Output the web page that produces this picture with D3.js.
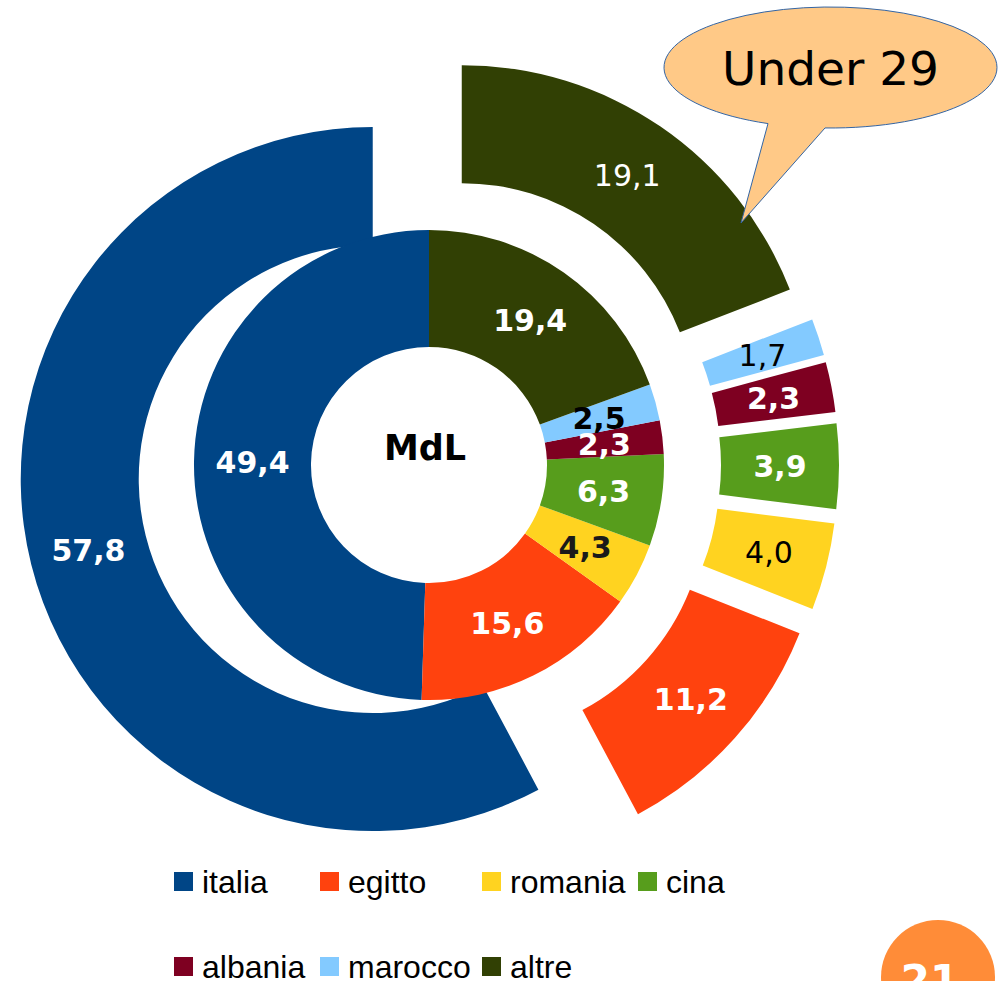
<!DOCTYPE html>
<html>
<head>
<meta charset="utf-8">
<script src="https://cdn.jsdelivr.net/npm/d3@7"></script>
<style>
  body { margin: 0; background: #ffffff; }
  svg { display: block; }
</style>
</head>
<body>
<svg id="svg_chart" width="1000" height="981"></svg>
<script>
// data, in legend order (LibreOffice draws them counter-clockwise from 12 o'clock)
const categories = ['italia', 'egitto', 'romania', 'cina', 'albania', 'marocco', 'altre'];
const values_mdl = [49.4, 15.6, 4.3, 6.3, 2.3, 2.5, 19.4];
const values_under29 = [57.8, 11.2, 4.0, 3.9, 2.3, 1.7, 19.1];
const colors = ['#004586', '#ff420e', '#ffd320', '#579d1c', '#7e0021', '#83caff', '#314004'];
const centre_label = 'MdL';
const callout_label = 'Under 29';
const page_number = '21';

// label styling per slice: [fill, weight]
const inner_lbl = {
  italia: ['#ffffff', 'bold'], egitto: ['#ffffff', 'bold'], romania: ['#1a1a1a', 'bold'],
  cina: ['#ffffff', 'bold'], albania: ['#ffffff', 'bold'], marocco: ['#000000', 'bold'], altre: ['#ffffff', 'bold'],
};
const outer_lbl = {
  italia: ['#ffffff', 'bold'], egitto: ['#ffffff', 'bold'], romania: ['#000000', 'normal'],
  cina: ['#ffffff', 'bold'], albania: ['#ffffff', 'bold'], marocco: ['#000000', 'normal'], altre: ['#ffffff', 'normal'],
};

const svg = d3.select('svg#svg_chart');
const cx = 429, cy = 465;
const explode = 58;
const fmt = v => d3.format('.1f')(v).replace('.', ',');

const color = d3.scaleOrdinal().domain(categories).range(colors);

const pie = d3.pie()
  .sort(null)
  .value(d => d.value)
  .startAngle(0)
  .endAngle(-2 * Math.PI);

const arc_inner = d3.arc().innerRadius(118).outerRadius(235);
const arc_outer = d3.arc().innerRadius(234).outerRadius(352);

const data_inner = pie(categories.map((c, i) => ({ name: c, value: values_mdl[i] })));
const data_outer = pie(categories.map((c, i) => ({ name: c, value: values_under29[i] })));

const shift = (d) => {
  const mid = (d.startAngle + d.endAngle) / 2;
  return [explode * Math.sin(mid), -explode * Math.cos(mid)];
};

const font_lbl = "'DejaVu Sans', sans-serif";

// outer ring, every slice pulled out
const g_outer = svg.append('g')
  .attr('transform', `translate(${cx},${cy})`);

const slices_outer = g_outer.selectAll('g.slice')
  .data(data_outer)
  .enter()
  .append('g')
  .attr('class', 'slice')
  .attr('transform', d => `translate(${shift(d)})`);

slices_outer.append('path')
  .attr('d', arc_outer)
  .attr('fill', d => color(d.data.name));

slices_outer.append('text')
  .attr('transform', d => `translate(${arc_outer.centroid(d)})`)
  .attr('dy', '0.36em')
  .attr('text-anchor', 'middle')
  .style('font-family', font_lbl)
  .style('font-size', '30px')
  .style('font-weight', d => outer_lbl[d.data.name][1])
  .attr('fill', d => outer_lbl[d.data.name][0])
  .text(d => fmt(d.data.value));

// inner donut
const g_inner = svg.append('g')
  .attr('transform', `translate(${cx},${cy})`);

g_inner.selectAll('path')
  .data(data_inner)
  .enter()
  .append('path')
  .attr('d', arc_inner)
  .attr('fill', d => color(d.data.name));

g_inner.selectAll('text.lbl')
  .data(data_inner)
  .enter()
  .append('text')
  .attr('class', 'lbl')
  .attr('transform', d => `translate(${arc_inner.centroid(d)})`)
  .attr('dy', '0.36em')
  .attr('text-anchor', 'middle')
  .style('font-family', font_lbl)
  .style('font-size', '30px')
  .style('font-weight', d => inner_lbl[d.data.name][1])
  .attr('fill', d => inner_lbl[d.data.name][0])
  .text(d => fmt(d.data.value));

g_inner.append('text')
  .attr('x', -4)
  .attr('y', -5)
  .attr('text-anchor', 'middle')
  .style('font-family', font_lbl)
  .style('font-size', '35px')
  .style('font-weight', 'bold')
  .attr('fill', '#000000')
  .text(centre_label);

// callout bubble
const ell = { x: 830.5, y: 67.5, rx: 166.5, ry: 60.5 };
const on_ell = (x) => [x, ell.y + ell.ry * Math.sqrt(1 - ((x - ell.x) / ell.rx) ** 2)];
const p1 = on_ell(768), p2 = on_ell(825);
const tip = [741, 223];

svg.append('path')
  .attr('d', `M${p1}A${ell.rx},${ell.ry} 0 1 1 ${p2}L${tip}Z`)
  .attr('fill', '#ffc987')
  .attr('stroke', '#3465a4')
  .attr('stroke-width', 1);

svg.append('text')
  .attr('x', ell.x)
  .attr('y', 85)
  .attr('text-anchor', 'middle')
  .style('font-family', font_lbl)
  .style('font-size', '47px')
  .attr('fill', '#000000')
  .text(callout_label);

// legend, two rows
const lgd_x = [174, 320, 482, 638];
const lgd_y = [872, 957];
const rect_size = 19;

const legends = svg.append('g')
  .style('font-family', "'Liberation Sans', Arial, sans-serif")
  .style('font-size', '32px')
  .selectAll('g.legend')
  .data(categories)
  .enter()
  .append('g')
  .attr('class', 'legend')
  .attr('transform', (d, i) => `translate(${lgd_x[i % 4]},${lgd_y[Math.floor(i / 4)]})`);

legends.append('rect')
  .attr('width', rect_size)
  .attr('height', rect_size)
  .attr('fill', d => color(d));

legends.append('text')
  .attr('x', 28)
  .attr('y', 21)
  .attr('fill', '#000000')
  .text(d => d);

// page badge, cut by the bottom edge
svg.append('circle')
  .attr('cx', 938)
  .attr('cy', 977)
  .attr('r', 57)
  .attr('fill', '#ff8c38');

svg.append('text')
  .attr('x', 930)
  .attr('y', 995)
  .attr('text-anchor', 'middle')
  .style('font-family', font_lbl)
  .style('font-size', '42px')
  .style('font-weight', 'bold')
  .attr('fill', '#ffffff')
  .text(page_number);
</script>
</body>
</html>
